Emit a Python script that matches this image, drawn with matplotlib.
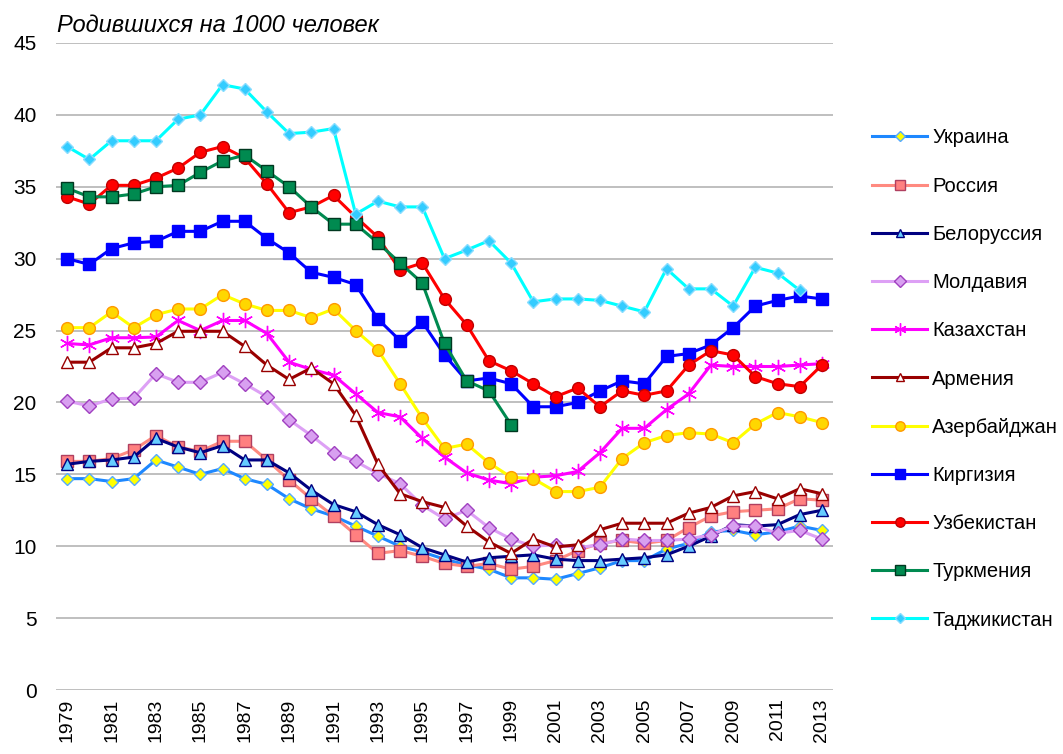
import numpy as np
import matplotlib
matplotlib.use("Agg")
import matplotlib.pyplot as plt

plt.rcParams['font.family'] = ['Liberation Sans', 'DejaVu Sans']

years = list(range(1979, 2014))
nan = np.nan

ukraine = [14.7, 14.7, 14.5, 14.7, 16.0, 15.5, 15.0, 15.4, 14.7, 14.3, 13.3, 12.6, 12.1, 11.4, 10.7,
           10.0, 9.6, 9.1, 8.7, 8.4, 7.8, 7.8, 7.7, 8.1, 8.5, 9.0, 9.0, 9.8, 10.2, 11.0, 11.1, 10.8,
           11.0, 11.4, 11.1]
russia = [15.9, 15.9, 16.1, 16.7, 17.7, 16.9, 16.6, 17.3, 17.3, 16.0, 14.6, 13.3, 12.1, 10.8, 9.5,
          9.7, 9.3, 8.8, 8.6, 8.8, 8.4, 8.6, 9.0, 9.7, 10.2, 10.4, 10.2, 10.4, 11.3, 12.1, 12.4, 12.5,
          12.6, 13.3, 13.2]
belarus = [15.7, 15.9, 16.0, 16.2, 17.5, 16.9, 16.5, 17.0, 16.0, 16.0, 15.1, 13.9, 12.9, 12.4, 11.5,
           10.8, 9.9, 9.4, 8.9, 9.2, 9.3, 9.4, 9.1, 9.0, 9.0, 9.1, 9.2, 9.4, 10.0, 10.7, 11.5, 11.4,
           11.5, 12.2, 12.5]
moldova = [20.1, 19.75, 20.25, 20.3, 22.0, 21.4, 21.4, 22.1, 21.3, 20.4, 18.8, 17.7, 16.5, 15.9, 15.05,
           14.35, 12.85, 11.9, 12.5, 11.3, 10.5, 10.0, 10.1, 9.9, 10.1, 10.5, 10.4, 10.4, 10.5, 10.8,
           11.4, 11.4, 10.9, 11.1, 10.5]
kazakhstan = [24.1, 24.0, 24.5, 24.5, 24.55, 25.7, 25.0, 25.7, 25.7, 24.8, 22.8, 22.3, 21.9, 20.6, 19.3,
              19.0, 17.5, 16.2, 15.1, 14.6, 14.35, 14.8, 14.9, 15.2, 16.5, 18.2, 18.2, 19.5, 20.6, 22.6,
              22.5, 22.5, 22.5, 22.6, 22.7]
armenia = [22.8, 22.8, 23.8, 23.8, 24.1, 24.95, 24.95, 24.95, 23.9, 22.6, 21.6, 22.4, 21.3, 19.1, 15.7,
           13.65, 13.1, 12.7, 11.4, 10.3, 9.5, 10.5, 9.95, 10.1, 11.15, 11.6, 11.6, 11.6, 12.3, 12.7,
           13.5, 13.8, 13.3, 14.0, 13.65]
azerbaijan = [25.2, 25.2, 26.3, 25.2, 26.1, 26.5, 26.5, 27.5, 26.85, 26.4, 26.4, 25.9, 26.5, 25.0, 23.65,
              21.3, 18.9, 16.8, 17.1, 15.8, 14.8, 14.7, 13.8, 13.8, 14.1, 16.1, 17.2, 17.7, 17.9, 17.8,
              17.2, 18.5, 19.3, 19.0, 18.6]
kyrgyzstan = [30.0, 29.6, 30.7, 31.1, 31.2, 31.9, 31.9, 32.6, 32.6, 31.4, 30.4, 29.05, 28.7, 28.2, 25.8,
              24.3, 25.6, 23.3, 21.5, 21.7, 21.3, 19.7, 19.7, 20.0, 20.8, 21.5, 21.3, 23.2, 23.4, 24.0,
              25.2, 26.7, 27.1, 27.4, 27.2]
uzbekistan = [34.3, 33.8, 35.1, 35.1, 35.6, 36.3, 37.4, 37.8, 37.0, 35.2, 33.2, 33.6, 34.4, 32.9, 31.5,
              29.2, 29.7, 27.2, 25.4, 22.9, 22.2, 21.3, 20.4, 21.0, 19.7, 20.8, 20.5, 20.8, 22.6, 23.6,
              23.3, 21.8, 21.3, 21.1, 22.6]
turkmenistan = [34.9, 34.3, 34.3, 34.5, 35.0, 35.1, 36.0, 36.8, 37.2, 36.1, 35.0, 33.6, 32.4, 32.4, 31.1,
                29.7, 28.3, 24.1, 21.5, 20.8, 18.45, nan, nan, nan, nan, nan, nan, nan, nan, nan,
                nan, nan, nan, nan, nan]
tajikistan = [37.8, 36.9, 38.2, 38.2, 38.2, 39.7, 40.0, 42.1, 41.8, 40.2, 38.7, 38.8, 39.05, 33.1, 34.0,
              33.6, 33.6, 30.0, 30.6, 31.25, 29.7, 27.0, 27.2, 27.2, 27.1, 26.7, 26.3, 29.3, 27.9, 27.9,
              26.7, 29.4, 29.0, 27.8, nan]

names = ["Украина", "Россия", "Белоруссия", "Молдавия", "Казахстан", "Армения",
         "Азербайджан", "Киргизия", "Узбекистан", "Туркмения", "Таджикистан"]
series = [ukraine, russia, belarus, moldova, kazakhstan, armenia,
          azerbaijan, kyrgyzstan, uzbekistan, turkmenistan, tajikistan]

styles = [
    dict(color='#1E88FF', marker='D', ms=6.5, mfc='#FFFF00', mec='#55AAFF'),
    dict(color='#FF8A80', marker='s', ms=8.5, mfc='#FF8080', mec='#B04060'),
    dict(color='#000080', marker='^', ms=8, mfc='#66CCFF', mec='#000080'),
    dict(color='#DDA0F5', marker='D', ms=7.5, mfc='#D8A0F0', mec='#A040C0'),
    dict(color='#FF00FF', marker=(6, 2, 0), ms=11, mfc='#FF00FF', mec='#FF00FF'),
    dict(color='#990000', marker='^', ms=8, mfc='#FFFFFF', mec='#990000'),
    dict(color='#FFFF00', marker='o', ms=8.5, mfc='#FFD700', mec='#FF9900'),
    dict(color='#0000FF', marker='s', ms=9, mfc='#0000FF', mec='#0000FF'),
    dict(color='#FF0000', marker='o', ms=8.5, mfc='#FF0000', mec='#C00000'),
    dict(color='#008A50', marker='s', ms=8.5, mfc='#008A50', mec='#003820'),
    dict(color='#00FFFF', marker='D', ms=6.5, mfc='#33CCFF', mec='#88DDFF'),
]

fig = plt.figure(figsize=(10.63, 7.54), dpi=100)
ax = fig.add_axes([56 / 1063, 1 - 690 / 754, (833 - 56) / 1063, (690 - 43) / 754])

for name, vals, st in zip(names, series, styles):
    ax.plot(years, vals, label=name, color=st['color'], lw=2.2, marker=st['marker'],
            ms=st['ms'], mfc=st['mfc'], mec=st['mec'], mew=1.0)

ax.set_xlim(1978.5, 2013.5)
ax.set_ylim(0, 45)
ax.set_yticks(range(0, 46, 5))
ax.set_xticks(years[::2])
ax.set_xticklabels([str(y) for y in years[::2]], rotation=90, fontsize=14)
ax.tick_params(axis='y', labelsize=15, length=0, pad=14)
ax.tick_params(axis='x', length=0, pad=6)
ax.grid(axis='y', color='#BFBFBF', lw=1.4)
ax.set_axisbelow(True)
for s in ax.spines.values():
    s.set_visible(False)

fig.text(57 / 1063, 1 - 25 / 754, "Родившихся на 1000 человек", fontsize=17,
         style='italic', va='center', ha='left')

leg = fig.legend(loc='center left', bbox_to_anchor=(872 / 1063, 1 - 379 / 754),
                 frameon=False, fontsize=14.5, handlelength=2.75, handletextpad=0.25,
                 labelspacing=1.45, borderpad=0, borderaxespad=0, markerscale=0.8)

fig.savefig("out.png", dpi=100)
